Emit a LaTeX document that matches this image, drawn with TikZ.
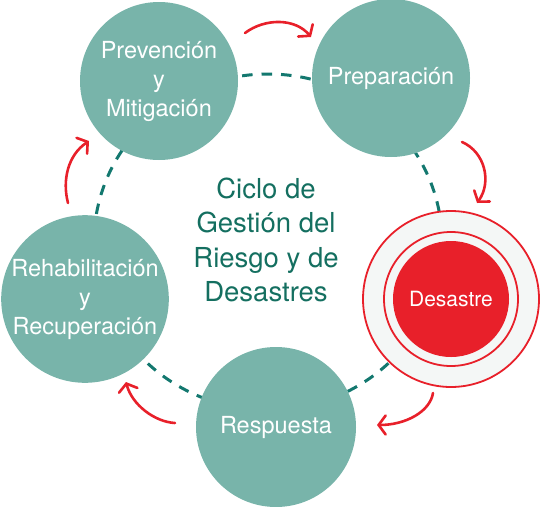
\documentclass[tikz,border=0pt]{standalone}
\usepackage{fontspec}
\setmainfont{TeX Gyre Heros}
\usetikzlibrary{arrows.meta}
\definecolor{tealfill}{HTML}{78B4AA}
\definecolor{dashteal}{HTML}{13786F}
\definecolor{titlecol}{HTML}{146F60}
\definecolor{redc}{HTML}{E8202A}
\definecolor{ringfill}{HTML}{F4F7F6}
\begin{document}
\begin{tikzpicture}[x=1pt,y=-1pt,
  phase/.style={circle,fill=tealfill,inner sep=0pt,text=white,align=center,
    font=\fontsize{23.5}{29}\selectfont},
  cycarrow/.style={draw=redc,line width=2.6pt,line cap=round,
    -{Straight Barb[length=7pt,width=19pt,line cap=round]}},
  ring/.style={circle,draw=redc,line width=1.8pt,inner sep=0pt}]
\useasboundingbox (0,0) rectangle (540,506);
% dashed cycle
\draw[dashteal,line width=3pt,dash pattern=on 10.5pt off 9pt] (268,242) ellipse [x radius=174, y radius=168];
% phases
\node[phase,minimum size=158pt] (prev) at (159,81) {Prevención\\y\\Mitigación};
\node[phase,minimum size=158pt] (prep) at (391,78) {Preparación};
\node[phase,minimum size=160pt] (resp) at (276,427) {Respuesta};
\node[phase,minimum size=164pt] (rehab) at (85,299) {Rehabilitación\\y\\Recuperación};
% disaster
\node[ring,fill=ringfill,minimum size=176pt] (desout) at (451,299) {};
\node[ring,minimum size=134pt] (desin) at (desout.center) {};
\node[circle,fill=redc,inner sep=0pt,minimum size=116pt,text=white,
  font=\fontsize{21}{25}\selectfont] (des) at (desout.center) {Desastre};
% title
\node[text=titlecol,align=center,font=\fontsize{27.5}{34.5}\selectfont] (title) at (266,240)
  {Ciclo de\\Gestión del\\Riesgo y de\\Desastres};
% arrow end points
\coordinate (a1s) at (245,33);  \coordinate (a1e) at (311,37);
\coordinate (a2s) at (462,142); \coordinate (a2e) at (477,203);
\coordinate (a3s) at (433,393); \coordinate (a3e) at (377,425);
\coordinate (a4s) at (175,423); \coordinate (a4e) at (126,382);
\coordinate (a5s) at (68,203);  \coordinate (a5e) at (89,141);
\draw[cycarrow] (a1s) .. controls (265,18) and (295,18) .. (a1e);
\draw[cycarrow] (a2s) .. controls (485,152) and (492,182) .. (a2e);
\draw[cycarrow] (a3s) .. controls (430,412) and (405,425) .. (a3e);
\draw[cycarrow] (a4s) .. controls (155,422) and (132,405) .. (a4e);
\draw[cycarrow] (a5s) .. controls (62,180) and (68,155) .. (a5e);
\end{tikzpicture}
\end{document}
